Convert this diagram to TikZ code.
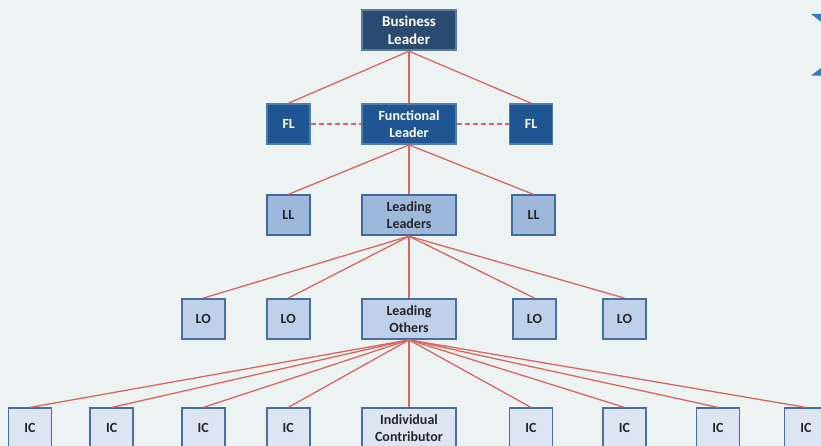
\documentclass[tikz,border=0pt]{standalone}
\usepackage{fontspec}
\setmainfont{Carlito}
\begin{document}
\begin{tikzpicture}[x=1pt,y=-1pt,
  box/.style={draw, line width=1.8pt, minimum height=40pt, inner sep=0pt, align=center,
    font=\fontsize{14}{16.7}\selectfont\bfseries},
  small/.style={box, minimum width=43pt},
  wide/.style={box, minimum width=94pt},
  lvA/.style={fill=cBL, draw=cBLb, text=white, font=\fontsize{15}{18}\selectfont\bfseries},
  lvB/.style={fill=cFL, draw=cFLb, text=white},
  lvC/.style={fill=cLL, draw=cLLb, text=black!85},
  lvD/.style={fill=cLO, draw=cLOb, text=black!85},
  lvE/.style={fill=cIC, draw=cLOb, text=black!85},
  link/.style={draw=cLine, line width=1.3pt},
  dlink/.style={draw=cLine, line width=1.3pt, dash pattern=on 5pt off 3pt}]
\definecolor{cBG}{HTML}{EDF2F3}
\definecolor{cBL}{HTML}{2B4A6F}
\definecolor{cBLb}{HTML}{5A7CA3}
\definecolor{cFL}{HTML}{1F5592}
\definecolor{cFLb}{HTML}{4F7DB0}
\definecolor{cLL}{HTML}{9DB8DB}
\definecolor{cLLb}{HTML}{41699C}
\definecolor{cLO}{HTML}{BED0EA}
\definecolor{cLOb}{HTML}{4A6F9F}
\definecolor{cIC}{HTML}{DDE5F2}
\definecolor{cLine}{HTML}{D9665F}
\definecolor{cChev}{HTML}{2E7DC0}
\useasboundingbox (0,0) rectangle (821,446);
\clip (0,0) rectangle (821,446);
\fill[cBG] (0,0) rectangle (821,446);
% chevron pieces at top right
\fill[cChev] (811,14) -- (821,14) -- (821,21.7) -- cycle;
\fill[cChev] (811,75.7) -- (821,75.7) -- (821,68) -- cycle;
% level 1
\node[wide, lvA] (bl) at (409,30.3) {Business\\Leader};
% level 2
\node[small, lvB] (fl1) at (288.7,124) {FL};
\node[wide, lvB] (fl) at (409,124) {Functional\\Leader};
\node[small, lvB] (fl2) at (531,124) {FL};
% level 3
\node[small, lvC] (ll1) at (288.3,215.3) {LL};
\node[wide, lvC] (ll) at (409,215.3) {Leading\\Leaders};
\node[small, lvC] (ll2) at (533.5,215.3) {LL};
% level 4
\node[small, lvD] (lo1) at (203.3,319) {LO};
\node[small, lvD] (lo2) at (288.3,319) {LO};
\node[wide, lvD] (lo) at (409,319) {Leading\\Others};
\node[small, lvD] (lo3) at (534.5,319) {LO};
\node[small, lvD] (lo4) at (624.5,319) {LO};
% level 5
\node[small, lvE] (ic1) at (30,428.3) {IC};
\node[small, lvE] (ic2) at (111.7,428.3) {IC};
\node[small, lvE] (ic3) at (203.3,428.3) {IC};
\node[small, lvE] (ic4) at (288.3,428.3) {IC};
\node[wide, lvE] (ic) at (409,428.3) {Individual\\Contributor};
\node[small, lvE] (ic5) at (531,428.3) {IC};
\node[small, lvE] (ic6) at (624.5,428.3) {IC};
\node[small, lvE] (ic7) at (718,428.3) {IC};
\node[small, lvE] (ic8) at (806,428.3) {IC};
% connectors
\foreach \c in {fl1,fl,fl2} \draw[link] (bl.south) -- (\c.north);
\draw[dlink] (fl1.east) -- (fl.west);
\draw[dlink] (fl.east) -- (fl2.west);
\foreach \c in {ll1,ll,ll2} \draw[link] (fl.south) -- (\c.north);
\foreach \c in {lo1,lo2,lo,lo3,lo4} \draw[link] (ll.south) -- (\c.north);
\foreach \c in {ic1,ic2,ic3,ic4,ic,ic5,ic6,ic7,ic8} \draw[link] (lo.south) -- (\c.north);
\end{tikzpicture}
\end{document}
